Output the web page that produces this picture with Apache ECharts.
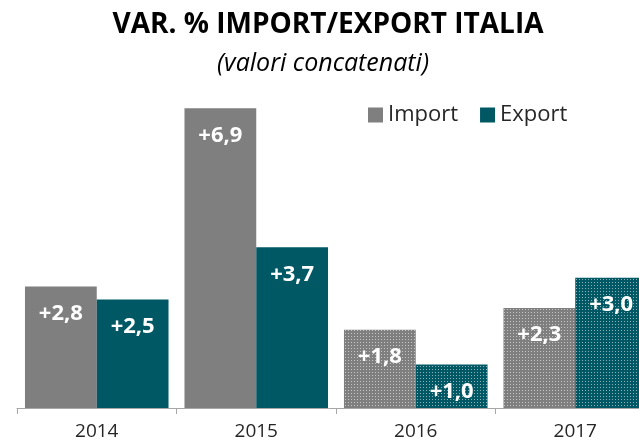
<!DOCTYPE html>
<html>
<head>
<meta charset="utf-8">
<script src="https://cdn.jsdelivr.net/npm/echarts@6/dist/echarts.min.js"></script>
<style>
  html, body { margin: 0; padding: 0; background: #fff; }
  #chart { width: 639px; height: 445px; }
</style>
</head>
<body>
<div id="chart"></div>
<script>
var years = ['2014', '2015', '2016', '2017'];
var importVals = [2.8, 6.9, 1.8, 2.3];
var exportVals = [2.5, 3.7, 1.0, 3.0];
// anni di previsione (barre punteggiate)
var forecast = [false, false, true, true];

var dots = {
    symbol: 'rect',
    symbolSize: 1,
    dashArrayX: [1, 2],
    dashArrayY: [1, 2],
    color: 'rgba(255,255,255,0.55)'
};

function buildData(vals) {
    return vals.map(function (v, i) {
        var d = { value: v };
        if (forecast[i]) d.itemStyle = { decal: dots };
        return d;
    });
}

var labelStyle = {
    show: true,
    position: 'insideTop',
    distance: 16,
    color: '#fff',
    fontFamily: 'Open Sans',
    fontWeight: 'bold',
    fontSize: 22,
    formatter: function (p) {
        return '+' + p.value.toFixed(1).replace('.', ',');
    }
};

var chart = echarts.init(document.getElementById('chart'));
chart.setOption({
    animation: false,
    title: [{
        text: 'VAR. % IMPORT/EXPORT ITALIA',
        left: 323, top: 6, textAlign: 'center',
        textStyle: { fontFamily: 'Open Sans', fontWeight: 'bold', fontSize: 28, color: '#000' }
    }, {
        text: '(valori concatenati)',
        left: 318, top: 46, textAlign: 'center',
        textStyle: { fontFamily: 'Open Sans', fontStyle: 'italic', fontWeight: 'normal', fontSize: 25, color: '#000' }
    }],
    legend: {
        left: 363, top: 99,
        itemWidth: 15, itemHeight: 15, itemGap: 22,
        icon: 'rect',
        textStyle: { fontFamily: 'Open Sans', fontSize: 22, color: '#262626' },
        data: ['Import', 'Export']
    },
    // la griglia esce a destra: l'ultima barra e' tagliata come nell'originale
    grid: { left: 17, width: 638, top: 104, bottom: 37, outerBoundsMode: 'none' },
    xAxis: {
        type: 'category',
        data: years,
        axisLine: { lineStyle: { color: '#a6a6a6' } },
        axisTick: { show: true, length: 6, lineStyle: { color: '#a6a6a6' } },
        axisLabel: { fontFamily: 'Open Sans', fontSize: 19, color: '#262626', margin: 14 }
    },
    yAxis: {
        type: 'value', min: 0, max: 7, show: false,
        splitLine: { show: false }
    },
    series: [{
        name: 'Import', type: 'bar',
        data: buildData(importVals),
        barGap: '0%', barCategoryGap: '10%',
        itemStyle: { color: '#7f7f7f' },
        label: labelStyle
    }, {
        name: 'Export', type: 'bar',
        data: buildData(exportVals),
        itemStyle: { color: '#005865' },
        label: labelStyle
    }]
});
</script>
</body>
</html>
